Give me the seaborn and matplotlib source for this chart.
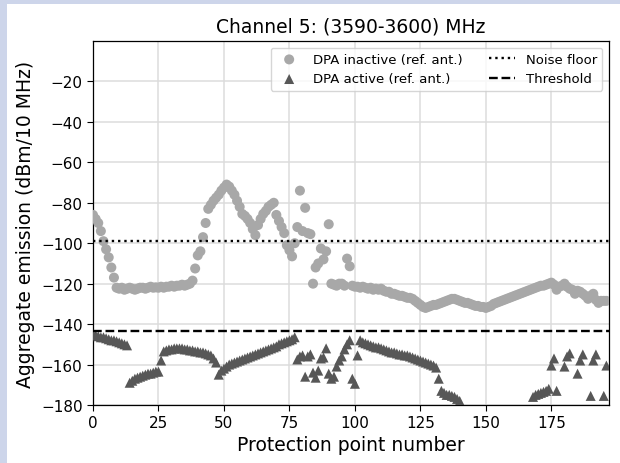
import numpy as np
import pandas as pd
import matplotlib
matplotlib.use("Agg")
import matplotlib.pyplot as plt
import seaborn as sns

# ---------------- data ----------------
title = "Channel 5: (3590-3600) MHz"
x_label = "Protection point number"
y_label = "Aggregate emission (dBm/10 MHz)"
label_inactive = "DPA inactive (ref. ant.)"
label_active = "DPA active (ref. ant.)"
label_noise = "Noise floor"
label_threshold = "Threshold"

noise_floor = -98.8
threshold = -143.2

dpa_inactive = [
    -86, -88, -90, -94, -99, -103, -107, -112, -117, -122,
    -122.5, -122, -123, -122.5, -122, -122.5, -123, -122.5, -122, -122,
    -122.5, -122, -121.5, -122, -121.8, -122, -121.5, -122, -121.5, -121.5,
    -121, -121.5, -121, -121, -120.5, -121, -120.5, -120, -118.5, -112.5,
    -106, -104, -97, -90, -83, -81, -79, -77.5, -76, -74,
    -72.5, -71, -72, -74, -76, -79, -82, -85.5, -86.5, -88,
    -90, -93, -96, -91, -88, -85.5, -84, -82, -81, -80,
    -86, -89, -92, -95, -101, -103.5, -106.5, -100, -92, -74,
    -94, -82.5, -95, -95.5, -120, -112, -110, -102.6, -108, -104,
    -90.6, -120, -120.5, -121, -120, -120, -121, -107.6, -111.4, -121,
    -121.5, -121.5, -122, -121.5, -122, -122.5, -122, -123, -122.5, -123,
    -122.5, -123.5, -124, -124, -125, -125, -125.5, -126, -126, -126.5,
    -127, -127, -127.5, -128.5, -129.5, -130.5, -131.5, -132, -131.5, -131,
    -130.5, -130.5, -130, -129.5, -129, -128.5, -128, -127.5, -127.5, -128,
    -128.5, -129, -129.5, -129.5, -130, -130.5, -131, -131, -131.5, -131.5,
    -132, -131.5, -131, -130, -129.5, -129, -128.5, -128, -127.5, -127,
    -126.5, -126, -125.5, -125, -124.5, -124, -123.5, -123, -122.5, -122,
    -121.5, -121, -121, -120.5, -120, -119.5, -120.5, -123, -121.5, -121,
    -120, -121.5, -122.5, -123, -125, -123.5, -124, -125, -126, -127.5,
    -126, -125, -128, -129.5, -128.5, -128.5, -128.5,
]

dpa_active = [
    -145, -145.5, -146, -146.5, -146.5, -147, -147.5, -148, -148, -148.5,
    -149, -149.5, -150, -150.5, -169, -168, -167, -166.5, -166, -165.5,
    -165, -164.5, -164.5, -164, -163.5, -163.5, -158, -153.5, -153, -152.5,
    -152.5, -152, -152, -152, -152, -152.5, -152.5, -153, -153, -153.5,
    -153.5, -154, -154, -154.5, -155, -155.5, -157, -159, -165, -163,
    -162, -161, -160, -159.5, -159, -158.5, -158, -157.5, -157, -156.5,
    -156, -155.5, -155, -154.5, -154, -153.5, -153, -152.5, -152, -151.5,
    -151, -150, -149.5, -149, -148.5, -148, -147.5, -146.5, -157.5, -156,
    -155.5, -166, -156, -155, -164, -166.5, -163, -157, -156.5, -152,
    -164.5, -167, -166, -161, -158, -156, -152.5, -150, -148, -167,
    -169.5, -155.5, -148, -149, -149.5, -150, -150.5, -151, -151.5, -151.5,
    -152, -152.5, -153, -153.5, -154, -154, -154.5, -155, -155, -155.5,
    -155.5, -156, -156.5, -157, -157.5, -158, -158.5, -159, -159.5, -160,
    -160.5, -161.5, -167, -173, -174, -175, -175, -175.5, -176, -177,
    -178, -195, -195, -195, -195, -195, -195, -195, -195, -195,
    -195, -195, -195, -195, -195, -195, -195, -195, -195, -195,
    -195, -195, -195, -195, -195, -195, -195, -195, -176, -175,
    -174.5, -174, -173.5, -173, -172, -160.5, -157, -173, -195, -183,
    -161, -156, -154.5, -195, -195, -164.5, -158, -155, -195, -195,
    -175.5, -158, -155, -195, -195, -175.5, -160.5,
]

point_numbers = list(range(len(dpa_inactive)))

df = pd.DataFrame({
    "point": point_numbers,
    "inactive": dpa_inactive,
    "active": dpa_active,
})

# ---------------- figure ----------------
fig = plt.figure(figsize=(6.2, 4.64), dpi=100)
fig.patch.set_facecolor("#cdd5ea")
fig.patches.append(plt.Rectangle((7 / 620, 0), 1 - 7 / 620, 1 - 5 / 464,
                                 transform=fig.transFigure, facecolor="white",
                                 edgecolor="none", zorder=-10))
ax = fig.add_axes([93 / 620, 1 - 406 / 464, (609 - 93) / 620, (406 - 42) / 464])
ax.set_facecolor("white")

sns.scatterplot(data=df, x="point", y="inactive", ax=ax, marker="o", s=52,
                color="#a8a8a8", edgecolor="none", linewidth=0,
                label=label_inactive, zorder=3)
sns.scatterplot(data=df, x="point", y="active", ax=ax, marker="^", s=52,
                color="#575757", edgecolor="none", linewidth=0,
                label=label_active, zorder=3)
ax.axhline(noise_floor, color="black", linestyle=":", linewidth=1.7,
           label=label_noise, zorder=4)
ax.axhline(threshold, color="black", linestyle="--", linewidth=1.7,
           label=label_threshold, zorder=4)

ax.set_xlim(0, 197)
ax.set_ylim(-180, 0)
ax.set_xticks([0, 25, 50, 75, 100, 125, 150, 175])
ax.set_yticks([-180, -160, -140, -120, -100, -80, -60, -40, -20])
ax.grid(True, color="#dcdcdc", linewidth=1.1)
ax.set_axisbelow(True)
ax.tick_params(labelsize=11, length=4)
for sp in ax.spines.values():
    sp.set_linewidth(0.9)

ax.set_title(title, fontsize=13.5, pad=7)
ax.set_xlabel(x_label, fontsize=13.5, labelpad=3)
ax.set_ylabel(y_label, fontsize=13.5, labelpad=4)

handles, labels = ax.get_legend_handles_labels()
order = [labels.index(l) for l in [label_inactive, label_active, label_noise, label_threshold]]
ax.legend([handles[i] for i in order], [labels[i] for i in order],
          loc="upper right", ncol=2, fontsize=9.5)

fig.savefig("out.png", dpi=100, facecolor=fig.get_facecolor())
